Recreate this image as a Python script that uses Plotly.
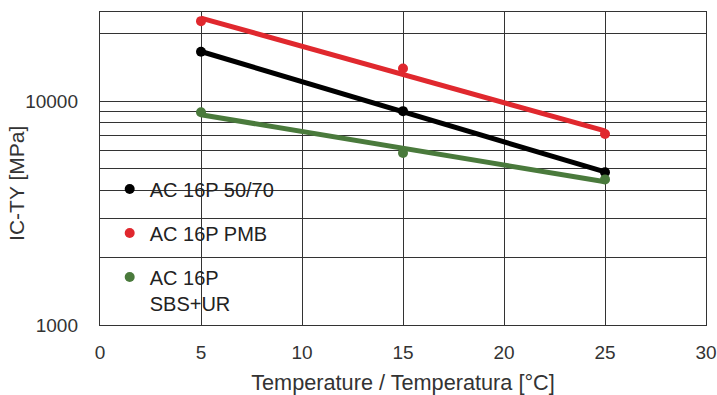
import numpy as np
import plotly.graph_objects as go

temps = [5, 15, 25]
series_names = ["AC 16P 50/70", "AC 16P PMB", "AC 16P<br>SBS+UR"]
ic_ty_5070 = [16600, 9020, 4810]
ic_ty_pmb = [22760, 13990, 7130]
ic_ty_sbs = [8910, 5860, 4470]
colors = ["#000000", "#e0282e", "#4a7a3c"]

y_tickvals = [1000, 2000, 3000, 4000, 5000, 6000, 7000, 8000, 9000, 10000, 20000]
y_ticktext = ["1000", "", "", "", "", "", "", "", "", "10000", ""]
x_tickvals = [0, 5, 10, 15, 20, 25, 30]
y_title = "IC-TY [MPa]"
x_title = "Temperature / Temperatura [°C]"

fig = go.Figure()
for i, (name, vals, col) in enumerate(zip(series_names, [ic_ty_5070, ic_ty_pmb, ic_ty_sbs], colors)):
    # exponential trend line (linear fit on log scale)
    coef = np.polyfit(temps, np.log10(vals), 1)
    xs = [temps[0], temps[-1]]
    ys = [10 ** np.polyval(coef, x) for x in xs]
    fig.add_trace(go.Scatter(x=xs, y=ys, mode="lines", line=dict(color=col, width=5),
                             showlegend=False, hoverinfo="skip", legendgroup=f"g{i}"))
    fig.add_trace(go.Scatter(x=temps, y=vals, mode="markers", name=name, legendgroup=f"g{i}",
                             marker=dict(color=col, size=10)))

grid_col = "#333333"
fig.update_layout(
    width=717, height=395,
    margin=dict(l=100, r=11, t=12, b=70),
    paper_bgcolor="white", plot_bgcolor="white",
    font=dict(family="Liberation Sans, Arial, sans-serif", size=19, color="#333333"),
    legend=dict(x=0.016, y=0.497, xanchor="left", yanchor="top", bgcolor="rgba(0,0,0,0)",
                font=dict(size=20, color="#222222"), tracegroupgap=15, itemwidth=30,
                valign="top"),
    xaxis=dict(range=[0, 30], tickvals=x_tickvals, showgrid=True, gridcolor=grid_col, gridwidth=1.4,
               showline=True, linecolor=grid_col, linewidth=1.4, mirror=True, ticks="",
               zeroline=False, automargin=False, ticklabelstandoff=10,
               title=dict(text=x_title, standoff=12, font=dict(size=21.7)),
               tickfont=dict(size=19)),
    yaxis=dict(type="log", range=[3, np.log10(25000)], tickvals=y_tickvals, ticktext=y_ticktext,
               showgrid=True, gridcolor=grid_col, gridwidth=1.4, showline=True, linecolor=grid_col,
               linewidth=1.4, mirror=True, ticks="", zeroline=False, automargin=False,
               ticklabelstandoff=17, tickfont=dict(size=19)),
    annotations=[dict(text=y_title, textangle=-90, xref="paper", yref="paper",
                      x=-0.137, y=0.454, xanchor="center", yanchor="middle",
                      showarrow=False, font=dict(size=21))],
)
fig.write_html("out.html", config={"displayModeBar": False},
               post_script="document.body.style.margin='0';")
